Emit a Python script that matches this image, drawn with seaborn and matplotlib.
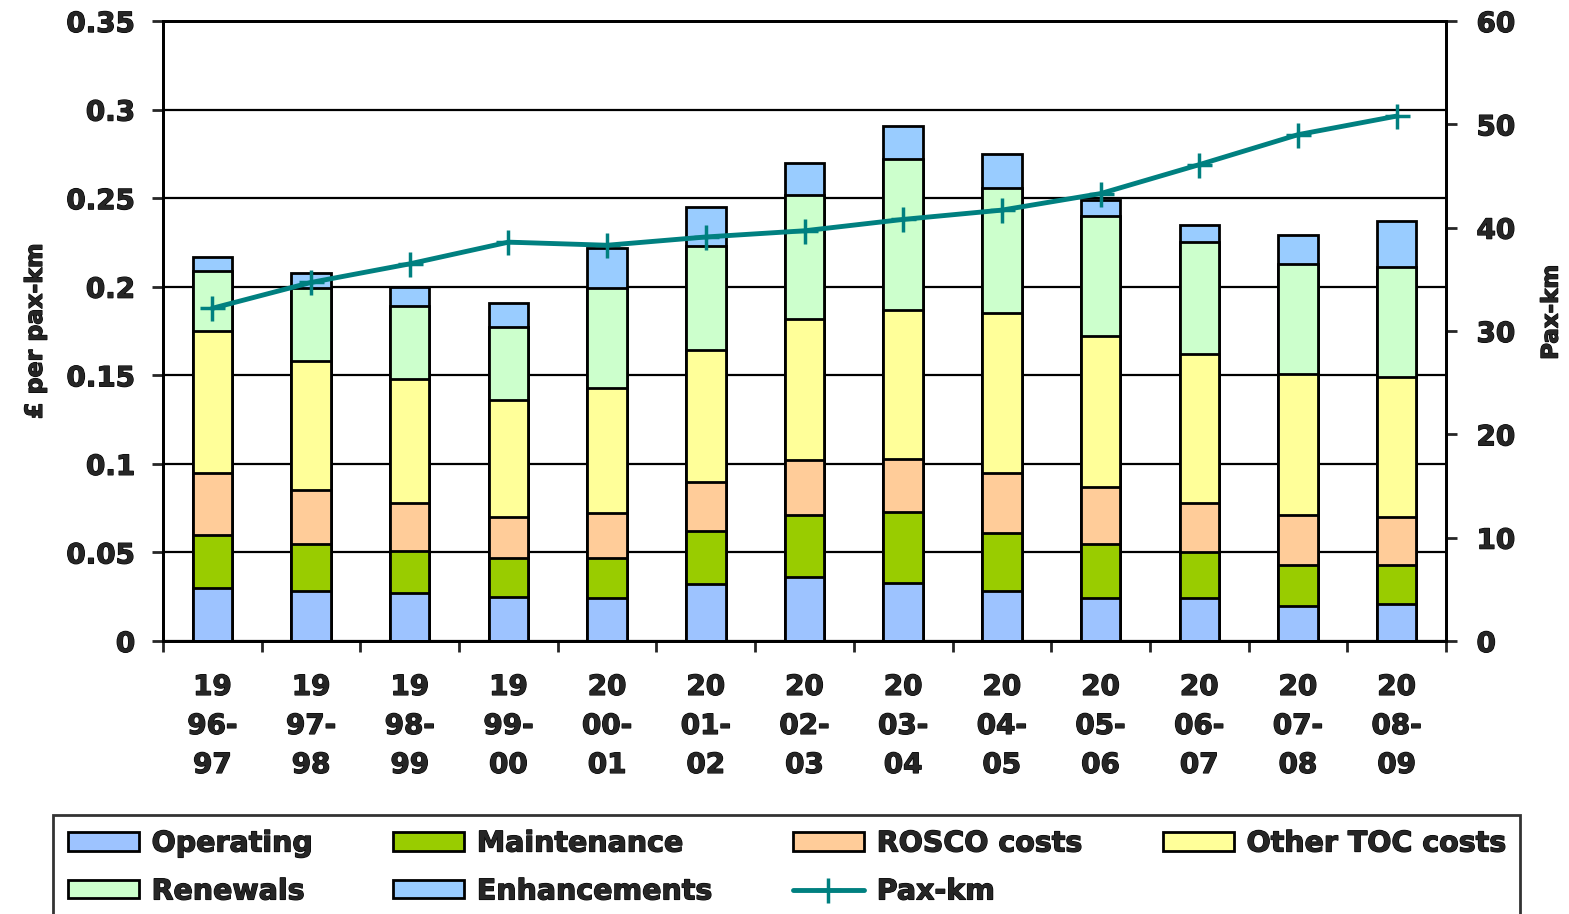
import numpy as np
import matplotlib
matplotlib.use("Agg")
import matplotlib.pyplot as plt
import matplotlib.patheffects as pe
import seaborn as sns
from matplotlib.patches import Patch
from matplotlib.lines import Line2D
from matplotlib.ticker import FormatStrFormatter, FixedLocator

# Data (£ per pax-km, per component)
years = ["1996-97", "1997-98", "1998-99", "1999-00", "2000-01", "2001-02", "2002-03",
         "2003-04", "2004-05", "2005-06", "2006-07", "2007-08", "2008-09"]
operating = [0.030, 0.028, 0.027, 0.025, 0.024, 0.032, 0.036, 0.033, 0.028, 0.024, 0.024, 0.020, 0.021]
maintenance = [0.030, 0.027, 0.024, 0.022, 0.023, 0.030, 0.035, 0.040, 0.033, 0.031, 0.026, 0.023, 0.022]
rosco = [0.035, 0.030, 0.027, 0.023, 0.025, 0.028, 0.031, 0.030, 0.034, 0.032, 0.028, 0.028, 0.027]
other_toc = [0.080, 0.073, 0.070, 0.066, 0.071, 0.074, 0.080, 0.084, 0.090, 0.085, 0.084, 0.080, 0.079]
renewals = [0.034, 0.041, 0.041, 0.041, 0.056, 0.059, 0.070, 0.085, 0.071, 0.068, 0.063, 0.062, 0.062]
enhancements = [0.008, 0.009, 0.011, 0.014, 0.023, 0.022, 0.018, 0.019, 0.019, 0.009, 0.010, 0.016, 0.026]
pax_km = [32.2, 34.7, 36.5, 38.6, 38.3, 39.1, 39.7, 40.8, 41.7, 43.3, 46.1, 49.0, 50.8]

names = ["Operating", "Maintenance", "ROSCO costs", "Other TOC costs", "Renewals", "Enhancements"]
colors = ["#9DC3FF", "#99CC00", "#FFCC99", "#FFFF99", "#CCFFCC", "#99CCFF"]
line_color = "#008080"

sns.set_style("white")
plt.rcParams["font.family"] = ["DejaVu Sans"]
plt.rcParams["font.weight"] = "bold"
heavy = [pe.withStroke(linewidth=0.9, foreground="black")]

fig = plt.figure(figsize=(15.69, 9.14), dpi=100)
ax = fig.add_axes([0.1039, 0.2987, 0.8177, 0.6783])

x_labels = [f"{y[:2]}\n{y[2:5]}\n{y[5:]}" for y in years]
stack = np.cumsum([operating, maintenance, rosco, other_toc, renewals, enhancements], axis=0)

# stacked bars: draw cumulative totals, tallest first
for tops, col in reversed(list(zip(stack, colors))):
    sns.barplot(x=x_labels, y=tops, color=col, saturation=1, width=0.4,
                edgecolor="black", linewidth=2, errorbar=None, ax=ax)

ax.set_xlim(-0.5, len(years) - 0.5)
ax.set_ylim(0, 0.35)
ax.set_yticks(np.arange(0, 0.351, 0.05))
ax.yaxis.set_major_formatter(FormatStrFormatter("%g"))
ax.yaxis.grid(True, color="black", lw=1.6)
ax.set_axisbelow(True)
ax.set_xlabel("")
ax.set_ylabel("£ per pax-km", fontsize=17, fontweight="bold", labelpad=14)
ax.tick_params(axis="y", direction="out", length=8, width=2, labelsize=20, pad=12, left=True)
ax.tick_params(axis="x", which="major", length=0, labelsize=20, pad=23)
ax.xaxis.set_minor_locator(FixedLocator(np.arange(-0.5, len(years), 1)))
ax.tick_params(axis="x", which="minor", direction="out", length=8, width=2, bottom=True)
for lab in ax.get_xticklabels():
    lab.set_linespacing(1.5)
    lab.set_fontweight("bold")
for sp in ax.spines.values():
    sp.set_color("black")
    sp.set_linewidth(2)

ax2 = ax.twinx()
sns.lineplot(x=np.arange(len(years)), y=pax_km, ax=ax2, color=line_color, lw=3.5,
             marker="+", markersize=18, markeredgewidth=2.5, markeredgecolor=line_color)
ax2.set_ylim(0, 60)
ax2.set_yticks(np.arange(0, 61, 10))
ax2.set_ylabel("Pax-km", fontsize=16.5, fontweight="bold")
ax2.yaxis.set_label_coords(1.073, 0.53)
ax2.tick_params(axis="y", direction="out", length=8, width=2, labelsize=20, pad=14, right=True)
for sp in ax2.spines.values():
    sp.set_color("black")
    sp.set_linewidth(2)

handles = [Patch(facecolor=c, edgecolor="black", lw=2) for c in colors]
handles.append(Line2D([], [], color=line_color, lw=3.5, marker="+", markersize=18,
                      markeredgewidth=2.5))
labels = names + ["Pax-km"]
# reorder so ncol=4 fills rows like the original
order = [0, 4, 1, 5, 2, 6, 3]
leg = fig.legend([handles[i] for i in order], [labels[i] for i in order],
                 loc="upper left", bbox_to_anchor=(0.034, -0.2, 0.935, 0.308),
                 mode="expand", ncol=4, fontsize=20.5, frameon=True, fancybox=False,
                 edgecolor="black", handlelength=2.5, handleheight=0.6,
                 handletextpad=0.45, labelspacing=0.7, borderaxespad=0, borderpad=0.5)
leg.get_frame().set_linewidth(2)
for t in leg.get_texts():
    t.set_fontweight("bold")

texts = (ax.get_xticklabels() + ax.get_yticklabels() + ax2.get_yticklabels()
         + [ax.yaxis.label, ax2.yaxis.label] + leg.get_texts())
for t in texts:
    t.set_path_effects(heavy)

fig.savefig("out.png", dpi=100)
